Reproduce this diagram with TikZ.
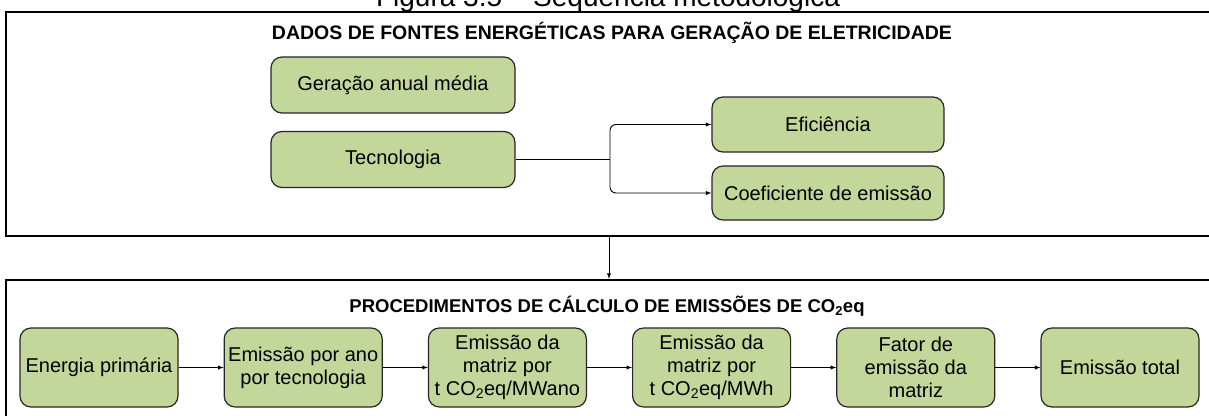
\documentclass[tikz,border=0pt]{standalone}
\usepackage{fontspec}
\setmainfont{Liberation Sans}
\usepackage{tikz}
\usetikzlibrary{positioning, arrows}
\definecolor{boxgreen}{RGB}{196,215,155}

\begin{document}
\begin{tikzpicture}[x=1pt, y=-1pt, ->, >=latex, line width=0.9pt, node distance=45pt]
	\tikzstyle{box}=[draw=black!85, fill=boxgreen, rounded corners=11pt, line width=1.2pt, align=center, inner sep=2pt, font=\fontsize{20}{23}\selectfont]
	\tikzstyle{frame}=[draw=black, line width=2.2pt, fill=none]
	\tikzstyle{heading}=[font=\bfseries\fontsize{18.5}{20}\selectfont]
	\useasboundingbox (0,0) rectangle (1209,415);
	\clip (0,0) rectangle (1209,415);
	\fill[white] (0,0) rectangle (1209,415);
	% caption, cut by the top edge
	\node[anchor=base, font=\fontsize{28}{30}\selectfont] (fig) at (608,6) {Figura 3.5 -- Sequência metodológica};
	% data block
	\node[frame, minimum width=1206pt, minimum height=224pt] (dados) at (609,124) {};
	\node[heading, font=\bfseries\fontsize{19.5}{21}\selectfont] (tdados) at (612,33) {DADOS DE FONTES ENERGÉTICAS PARA GERAÇÃO DE ELETRICIDADE};
	\node[box, minimum width=244pt, minimum height=56pt] (gera) at (393,85) {Geração anual média};
	\node[box, minimum width=244pt, minimum height=56pt] (tec)  at (393,159.5) {Tecnologia};
	\node[box, minimum width=232pt, minimum height=55pt] (efi)  at (828,124.5) {Eficiência};
	\node[box, minimum width=232pt, minimum height=54pt] (coef) at (828,193) {Coeficiente de emissão};
	\coordinate (split) at (610,159.5);
	\draw[-, rounded corners=6pt] (tec.east) -- (split);
	\draw[rounded corners=6pt] (split) |- (efi.west);
	\draw[rounded corners=6pt] (split) |- (coef.west);
	% calculation block
	\node[frame, minimum width=1206pt, minimum height=150pt] (proc) at (609,355) {};
	\node[heading] (tproc) at (607,306) {PROCEDIMENTOS DE CÁLCULO DE EMISSÕES DE CO\textsubscript{2}eq};
	\tikzstyle{every node}=[box, minimum width=158pt, minimum height=79pt]
	\node (e1) at (99,367.5) {Energia primária};
	\node (e2) [right=45pt of e1] {Emissão por ano\\por tecnologia};
	\node (e3) [right=45pt of e2] {Emissão da\\matriz por\\t CO\textsubscript{2}eq/MWano};
	\node (e4) [right=45pt of e3] {Emissão da\\matriz por\\t CO\textsubscript{2}eq/MWh};
	\node (e5) [right=45pt of e4] {Fator de\\emissão da\\matriz};
	\node (e6) [right=45pt of e5] {Emissão total};
	\path
	(dados.south) edge (proc.north)
	(e1) edge (e2)
	(e2) edge (e3)
	(e3) edge (e4)
	(e4) edge (e5)
	(e5) edge (e6);
\end{tikzpicture}
\end{document}
